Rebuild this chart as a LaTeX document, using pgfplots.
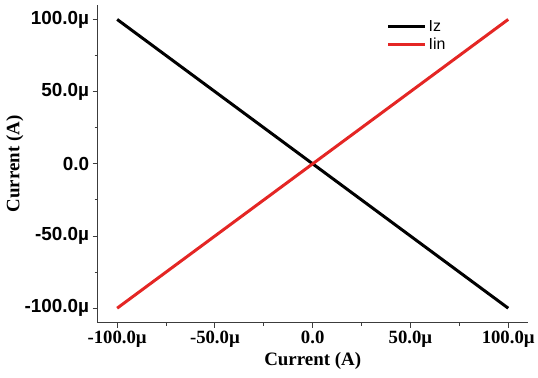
\documentclass[border=0pt]{standalone}
\usepackage{pgfplots}
\pgfplotsset{compat=1.18}
\usepackage{fontspec}
\setmainfont{Liberation Serif}
\newfontfamily\arial{Liberation Sans}
\definecolor{myred}{RGB}{228,38,36}
\definecolor{axgray}{RGB}{60,60,60}
\begin{document}
\begin{tikzpicture}
\begin{axis}[
  scale only axis, width=432pt, height=319pt,
  xmin=-110, xmax=110, ymin=-110, ymax=110,
  axis lines=left,
  axis line style={-, line width=1.2pt, color=axgray},
  xtick={-100,-50,0,50,100},
  xticklabels={-100.0µ,-50.0µ,0.0,50.0µ,100.0µ},
  ytick={-100,-50,0,50,100},
  yticklabels={-100.0µ,-50.0µ,0.0,50.0µ,100.0µ},
  minor tick num=1,
  tick align=outside, tick pos=left,
  major tick length=5pt, minor tick length=3pt,
  every tick/.style={line width=1pt, color=axgray},
  xticklabel style={font=\fontsize{18.8}{20}\selectfont\bfseries, text=black},
  yticklabel style={font=\fontsize{19}{20}\selectfont\arial\bfseries, text=black},
  xlabel={Current (A)}, ylabel={Current (A)},
  label style={font=\fontsize{19}{20}\selectfont\bfseries},
  xlabel style={at={(axis description cs:0.5,0)}, anchor=center, yshift=-38pt},
  ylabel style={at={(axis description cs:0,0.5)}, anchor=center, yshift=83pt},
  legend style={draw=none, fill=none, at={(0.665,0.965)}, anchor=north west,
    font=\fontsize{16}{16}\selectfont\arial, row sep=1.5pt},
  legend cell align=left,
  legend image code/.code={\draw[#1, line width=3pt] (0pt,0pt) -- (37pt,0pt);},
  clip=false,
]
\addplot[black, line width=3pt] coordinates {(-100,100) (100,-100)};
\addlegendentry{Iz}
\addplot[myred, line width=3pt] coordinates {(-100,-100) (100,100)};
\addlegendentry{Iin}
\end{axis}
\path ([xshift=-98pt,yshift=-55pt]current axis.south west) rectangle ([xshift=8pt,yshift=5pt]current axis.north east);
\end{tikzpicture}
\end{document}
